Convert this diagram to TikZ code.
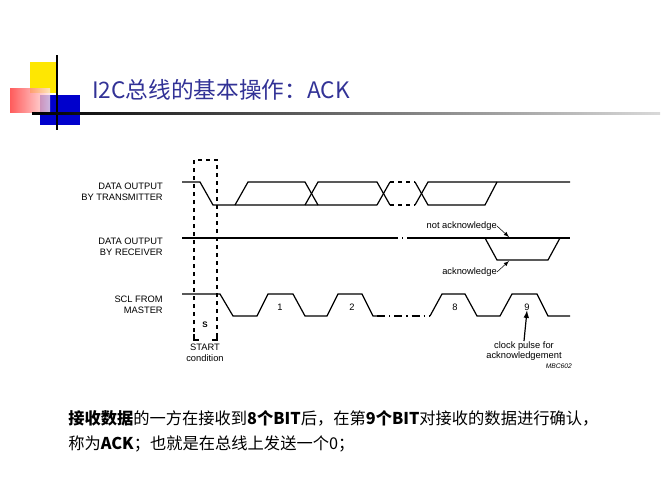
\documentclass[tikz,border=0pt]{standalone}
\usepackage{fontspec}
\setsansfont{Liberation Sans}
\newfontfamily\cjk{Noto Sans CJK SC}
\usetikzlibrary{positioning}
\definecolor{titleblue}{RGB}{50,50,150}
\tikzset{
  wave/.style={line width=0.9pt},
  sig/.style={font=\sffamily\fontsize{7}{8}\selectfont, align=right, anchor=east, inner sep=0pt},
  lbl/.style={font=\sffamily\fontsize{7}{8}\selectfont, inner sep=0pt, align=center},
  gap/.style={line width=0.9pt, dash pattern=on 6pt off 3pt on 1pt off 3pt},
}
\begin{document}
\begin{tikzpicture}[x=0.75pt,y=-0.75pt]
		\useasboundingbox (0,0) rectangle (667,500);
		% Title decoration
		\fill[yellow!90!orange] (30,62) rectangle (58,93);
		\fill[blue!80!black] (40,95) rectangle (80,125);
		\shade[left color=red!80, right color=red!10, opacity=0.8] (10,88) rectangle (50,112);
		\draw[line width=1pt] (57,55) -- (57,130);
		\shade[left color=black, right color=gray!30] (32,112) rectangle (660,114);
		\node[anchor=west, text=titleblue, inner sep=0pt] (title) at (92,90) {\fontsize{17}{20}\selectfont\cjk I2C总线的基本操作：ACK};
		% Signal names
		\node[sig] (tx) at (163,192) {DATA OUTPUT\\BY TRANSMITTER};
		\node[sig] (rx) at (163,247) {DATA OUTPUT\\BY RECEIVER};
		\node[sig] (scl) at (163,305) {SCL FROM\\MASTER};
		% Transmitter data
		\draw[wave] (182,182) -- (200,182) -- (213,205) -- (377,205);
		\draw[wave] (235,205) -- (248,182) -- (305,182) -- (318,205);
		\draw[wave] (305,205) -- (318,182) -- (377,182) -- (390,205);
		\draw[wave] (377,205) -- (390,182);
		\draw[wave, dashed] (390,182) -- (415,182);
		\draw[wave, dashed] (390,205) -- (415,205);
		\draw[wave] (415,182) -- (428,205) -- (485,205) -- (497,182);
		\draw[wave] (415,205) -- (428,182) -- (570,182);
		% Receiver data
		\draw[wave] (182,238) -- (390,238);
		\draw[gap] (390,238) -- (412,238);
		\draw[wave] (412,238) -- (570,238);
		\draw[wave] (485,238) -- (497,260) -- (548,260) -- (560,238);
		\node[lbl, anchor=east] (nack) at (497,226) {not acknowledge};
		\node[lbl, anchor=east] (ack) at (497,272) {acknowledge};
		\coordinate (nackend) at (509,237);
		\coordinate (ackend) at (509,261);
		\draw[-latex] (nack.east) -- (nackend);
		\draw[-latex] (ack.east) -- (ackend);
		% SCL
		\draw[wave] (182,294) -- (220,294) -- (233,316) -- (257,316) -- (268,294) -- (293,294)
		  -- (305,316) -- (327,316) -- (338,294) -- (362,294) -- (373,316) -- (377,316);
		\draw[gap] (377,316) -- (430,316);
		\draw[wave] (430,316) -- (442,294) -- (465,294) -- (477,316) -- (500,316) -- (512,294)
		  -- (537,294) -- (548,316) -- (570,316);
		\node[lbl] (c1) at (280,307) {1};
		\node[lbl] (c2) at (352,307) {2};
		\node[lbl] (c8) at (455,307) {8};
		\node[lbl] (c9) at (527,307) {9};
		\node[lbl, anchor=north] (pulse) at (524,341) {clock pulse for\\acknowledgement};
		\draw[-latex, line width=0.9pt] (pulse.north) -- (c9.south);
		\node[lbl, anchor=east, font=\sffamily\itshape\fontsize{5}{6}\selectfont] (mbc) at (572,366) {MBC602};
		% START box
		\draw[wave, dashed] (194,340) -- (194,160) -- (217,160) -- (217,340);
		\draw[wave] (194,334) -- (194,340) -- (199,340);
		\draw[wave] (212,340) -- (217,340) -- (217,334);
		\node[lbl, font=\sffamily\bfseries\fontsize{6}{7}\selectfont] (s) at (205,325) {S};
		\node[lbl, anchor=north] (start) at (205,344) {START\\condition};
		% Caption
		\node[anchor=north west, align=left, inner sep=0pt, font=\cjk\fontsize{12.2}{19}\selectfont] (cap) at (68,410)
		  {\textbf{接收数据}的一方在接收到\textbf{8个BIT}后，在第\textbf{9个BIT}对接收的数据进行确认，\\称为\textbf{ACK}；也就是在总线上发送一个0；};
	\end{tikzpicture}
\end{document}
